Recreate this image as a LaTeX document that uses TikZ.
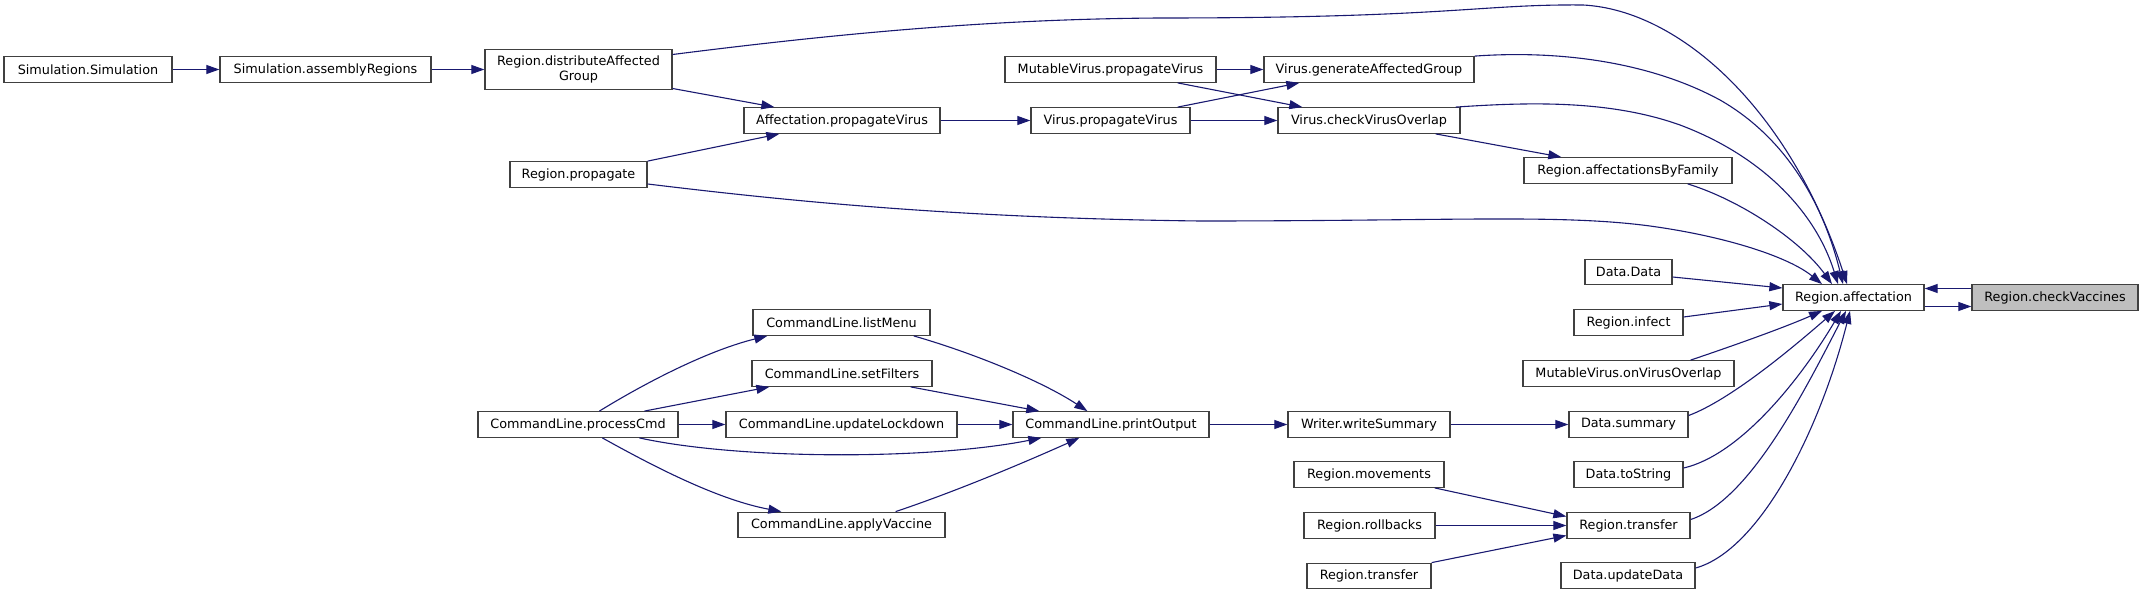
\documentclass[tikz,border=0pt]{standalone}
\usepackage{fontspec}
\newfontfamily\dvsfont{DejaVu Sans}
\usetikzlibrary{arrows.meta,calc}
\definecolor{edgeblue}{HTML}{191970}
\definecolor{bordergray}{HTML}{404040}
\definecolor{hlgray}{HTML}{BFBFBF}
\begin{document}
\begin{tikzpicture}[x=1bp,y=-1bp,
  box/.style={draw=bordergray, line width=1.3bp, fill=white, inner sep=0pt,
    minimum height=25.5bp, font={\dvsfont\fontsize{12.8bp}{15bp}\selectfont}},
  cedge/.style={draw=edgeblue, line width=1.1bp, -{Triangle[length=13bp,width=9bp]}}]
\useasboundingbox (0,0) rectangle (2144,595);

% nodes
\node[box, minimum width=168bp] (ss) at (88,69.5) {Simulation.Simulation};
\node[box, minimum width=211bp] (sar) at (325.5,69.5) {Simulation.assemblyRegions};
\node[box, minimum width=187bp, minimum height=40bp, align=center] (rdag) at (578.5,69.5) {Region.distributeAffected\\Group};
\node[box, minimum width=137bp] (rp) at (578.5,174.5) {Region.propagate};
\node[box, minimum width=196bp] (apv) at (842,120.5) {Affectation.propagateVirus};
\node[box, minimum width=211bp] (mvpv) at (1110.5,69.5) {MutableVirus.propagateVirus};
\node[box, minimum width=159bp] (vpv) at (1110.5,120.5) {Virus.propagateVirus};
\node[box, minimum width=210bp] (vgag) at (1369,69.5) {Virus.generateAffectedGroup};
\node[box, minimum width=182bp] (vcvo) at (1369,120.5) {Virus.checkVirusOverlap};
\node[box, minimum width=208bp] (rabf) at (1628,170.5) {Region.affectationsByFamily};
\node[box, minimum width=87bp] (dd) at (1628.5,272) {Data.Data};
\node[box, minimum width=141bp] (ra) at (1853.5,297.5) {Region.affectation};
\node[box, minimum width=166bp, fill=hlgray] (rcv) at (2055,297.5) {Region.checkVaccines};
\node[box, minimum width=109bp] (ri) at (1628.5,322.5) {Region.infect};
\node[box, minimum width=211bp] (mvovo) at (1628.5,373.5) {MutableVirus.onVirusOverlap};
\node[box, minimum width=119bp] (ds) at (1628.5,424.5) {Data.summary};
\node[box, minimum width=109bp] (dts) at (1628.5,474.5) {Data.toString};
\node[box, minimum width=123bp] (rt) at (1628.5,525.5) {Region.transfer};
\node[box, minimum width=134bp] (dud) at (1628,575.5) {Data.updateData};
\node[box, minimum width=162bp] (wws) at (1369,424.5) {Writer.writeSummary};
\node[box, minimum width=150bp] (rm) at (1369,474.5) {Region.movements};
\node[box, minimum width=131bp] (rr) at (1369.5,525.5) {Region.rollbacks};
\node[box, minimum width=124bp] (rt2) at (1369,576) {Region.transfer};
\node[box, minimum width=196bp] (clpo) at (1111,424.5) {CommandLine.printOutput};
\node[box, minimum width=177bp] (cllm) at (841.5,322.5) {CommandLine.listMenu};
\node[box, minimum width=180bp] (clsf) at (842,373.5) {CommandLine.setFilters};
\node[box, minimum width=231bp] (clul) at (841.5,424.5) {CommandLine.updateLockdown};
\node[box, minimum width=207bp] (clav) at (841.5,525) {CommandLine.applyVaccine};
\node[box, minimum width=200bp] (clpc) at (578,424.5) {CommandLine.processCmd};

% edges
\draw[cedge] (ss.east) -- (sar.west);
\draw[cedge] (sar.east) -- (rdag.west);
\draw[cedge] ($(rdag.east)+(0,19)$) -- ($(apv.north west)+(31,0)$);
\draw[cedge] (rp.north east) -- ($(apv.south west)+(36,0)$);
\draw[cedge] (apv.east) -- (vpv.west);
\draw[cedge] ($(vpv.north east)+(-13,0)$) -- ($(vgag.south west)+(36,0)$);
\draw[cedge] (vpv.east) -- (vcvo.west);
\draw[cedge] (mvpv.east) -- (vgag.west);
\draw[cedge] ($(mvpv.south east)+(-39,0)$) -- ($(vcvo.north west)+(25,0)$);
\draw[cedge] ($(vcvo.south east)+(-25,0)$) -- ($(rabf.north west)+(38,0)$);

% into Region.affectation from above
\draw[cedge] ($(rdag.east)+(0,-15)$) .. controls (850,32) and (1000,19) .. (1160,18)
  .. controls (1450,18) and (1480,4) .. (1583,5)
  .. controls (1680,10) and (1790,110) .. ($(ra.north)+(-6.5,0)$);
\draw[cedge] (vgag.north east) .. controls (1560,50) and (1650,62) .. (1720,100)
  .. controls (1790,140) and (1825,210) .. ($(ra.north)+(-10.5,0)$);
\draw[cedge] ($(vcvo.north east)+(-5,0)$) .. controls (1530,102) and (1610,100) .. (1680,125)
  .. controls (1760,155) and (1815,210) .. ($(ra.north)+(-15.5,0)$);
\draw[cedge] ($(rabf.south east)+(-45,0)$) .. controls (1740,200) and (1800,240) .. ($(ra.north)+(-21.5,0)$);
\draw[cedge] ($(rp.east)+(0,9.5)$) .. controls (780,200) and (950,218) .. (1200,221)
  .. controls (1450,221) and (1560,214) .. (1650,226)
  .. controls (1730,237) and (1790,258) .. ($(ra.north)+(-31.5,0)$);
% from the left
\draw[cedge] ($(dd.east)+(0,5)$) -- ($(ra.west)+(0,-9.5)$);
\draw[cedge] ($(ri.east)+(0,-5.5)$) -- ($(ra.west)+(0,6.5)$);
% from below
\draw[cedge] ($(mvovo.north east)+(-44,0)$) .. controls (1750,340) and (1790,325) .. ($(ra.south)+(-31.5,0)$);
\draw[cedge] ($(ds.east)+(0,-9)$) .. controls (1730,400) and (1790,350) .. ($(ra.south)+(-18.5,0)$);
\draw[cedge] ($(dts.east)+(0,-6.5)$) .. controls (1740,455) and (1800,380) .. ($(ra.south)+(-12.5,0)$);
\draw[cedge] ($(rt.east)+(0,-6)$) .. controls (1750,500) and (1805,390) .. ($(ra.south)+(-7.5,0)$);
\draw[cedge] ($(dud.east)+(0,-7.5)$) .. controls (1760,550) and (1820,430) .. ($(ra.south)+(-3.5,0)$);
% checkVaccines
\draw[cedge] ($(rcv.west)+(0,-9)$) -- ($(ra.east)+(0,-9)$);
\draw[cedge] ($(ra.east)+(0,9)$) -- ($(rcv.west)+(0,9)$);

% Region.transfer
\draw[cedge] ($(rm.south east)+(-10,0)$) -- ($(rt.west)+(0,-9)$);
\draw[cedge] (rr.east) -- (rt.west);
\draw[cedge] (rt2.north east) -- ($(rt.west)+(0,10)$);

% summary chain
\draw[cedge] (wws.east) -- (ds.west);
\draw[cedge] (clpo.east) -- (wws.west);

% CommandLine
\draw[cedge] ($(cllm.south east)+(-17,0)$) .. controls (970,352) and (1040,380) .. ($(clpo.north west)+(75,0)$);
\draw[cedge] ($(clsf.south east)+(-22,0)$) -- ($(clpo.north west)+(27,0)$);
\draw[cedge] (clul.east) -- (clpo.west);
\draw[cedge] ($(clpc.south west)+(162,0)$) .. controls (740,460) and (930,460) .. ($(clpo.south west)+(29,0)$);
\draw[cedge] ($(clav.north east)+(-50,0)$) .. controls (960,490) and (1030,460) .. ($(clpo.south west)+(67,0)$);
\draw[cedge] ($(clpc.north west)+(122,0)$) .. controls (650,380) and (710,350) .. ($(cllm.south west)+(15,0)$);
\draw[cedge] ($(clpc.north west)+(167,0)$) -- ($(clsf.south west)+(18,0)$);
\draw[cedge] (clpc.east) -- (clul.west);
\draw[cedge] ($(clpc.south west)+(125,0)$) .. controls (660,470) and (720,500) .. ($(clav.north west)+(44,0)$);
\end{tikzpicture}
\end{document}
